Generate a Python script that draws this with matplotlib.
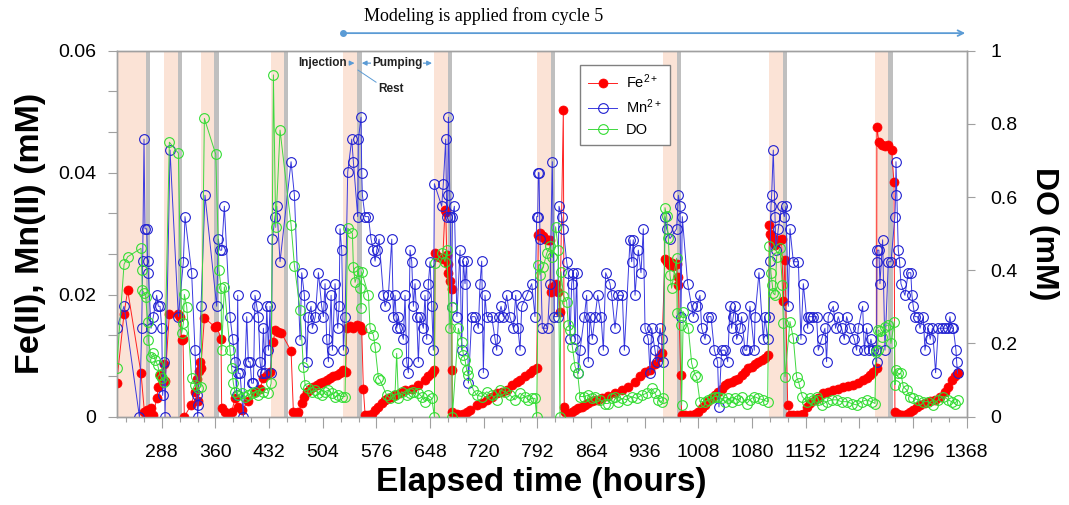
import numpy as np
import matplotlib
matplotlib.use("Agg")
import matplotlib.pyplot as plt

plt.rcParams["font.family"] = ["Liberation Sans", "DejaVu Sans"]
plt.rcParams["mathtext.fontset"] = "custom"
plt.rcParams["mathtext.rm"] = "Liberation Sans"
plt.rcParams["mathtext.default"] = "regular"

# =========================
# DATA
# =========================
# injection start, injection end, rest end (hours)
inj_start = [227.6, 291.1, 340.3, 434.2, 531.6, 653.7, 791.9, 960.9, 1103.1, 1245.0]
inj_end = [266.5, 309.8, 358.5, 452.0, 550.4, 671.7, 810.3, 979.7, 1121.1, 1262.8]
rest_end = [272.3, 315.2, 364.4, 457.8, 556.3, 677.4, 815.6, 984.3, 1127.3, 1269.5]

fe_t = [227.5, 237.4, 242.3, 260.2, 264.7, 267.8, 270.0, 273.6, 276.7, 281.2, 283.4, 285.7,
        288.0, 290.5, 292.4, 298.2, 310.3, 312.0, 314.7, 316.5, 318.3, 327.3, 332.6, 335.0,
        336.5, 338.0, 339.3, 340.5, 345.2, 359.5, 361.5, 367.5, 368.4, 373.0, 377.3, 381.8,
        386.3, 390.8, 395.2, 404.2, 413.1, 419.9,
        424.4, 428.9, 433.3, 437.8, 440.0, 444.5, 448.0, 461.5, 464.6, 469.1, 471.3, 475.8,
        479.4, 482.5, 487.0, 491.5, 495.9, 500.4, 504.9, 509.3, 513.8, 518.3, 522.8, 527.2,
        531.7, 534.8, 536.2, 540.7, 545.1, 549.6, 554.1, 556.3, 558.5, 560.8, 565.3, 569.7,
        574.2, 578.7, 583.1, 587.6, 592.1, 596.5, 601.0, 607.7,
        614.4, 623.4, 632.3, 641.2, 645.7, 650.2, 653.8, 654.7, 660.0, 665.0, 668.0, 669.0,
        670.5, 671.5, 672.6, 675.0, 677.0, 677.5, 678.0, 683.5, 688.2, 692.7, 697.1, 701.6,
        710.6, 717.3, 724.0, 730.7, 737.4, 744.1, 750.8, 757.5, 764.2, 768.7, 775.4, 782.1,
        786.6, 791.0,
        793.3, 795.5, 797.7, 800.0, 802.2, 806.7, 809.0, 810.0, 812.0, 814.7, 817.0, 820.0,
        822.3, 826.8, 828.0, 829.5, 833.5, 838.0, 842.5, 847.0, 851.4, 855.9, 860.4, 864.9,
        869.3, 873.8, 878.2, 887.2, 896.1, 905.1, 914.0, 923.0, 929.7, 936.4, 943.1, 949.8,
        955.2, 958.7,
        963.2, 965.4, 967.7, 969.9, 972.1, 974.4, 978.8, 980.0, 981.1, 984.3, 985.5, 990.0,
        996.7, 1003.4, 1007.9, 1012.4, 1016.9, 1021.3, 1025.8, 1030.3, 1034.7, 1039.2, 1043.7,
        1048.2, 1052.6, 1057.1, 1061.6, 1066.0, 1070.5, 1075.0, 1079.4, 1083.9, 1088.4, 1092.8,
        1097.3, 1101.8,
        1103.2, 1104.1, 1106.3, 1108.5, 1110.8, 1113.0, 1115.2, 1117.5, 1119.7, 1122.0, 1124.2,
        1127.8, 1130.9, 1135.4, 1139.8, 1144.3, 1148.8, 1153.2, 1157.7, 1164.4, 1168.9, 1175.6,
        1182.3, 1189.0, 1195.7, 1202.4, 1209.1, 1215.8, 1222.5, 1229.2, 1233.7, 1238.2, 1242.6,
        1247.1,
        1247.5, 1250.2, 1253.8, 1258.3, 1262.8, 1267.3, 1270.4, 1271.7, 1276.2, 1281.6, 1287.4,
        1291.9, 1296.3, 1300.8, 1305.3, 1312.0, 1318.7, 1325.4, 1332.1, 1338.8, 1343.3, 1347.8,
        1352.2, 1355.8]
fe_val = [0.0055, 0.0169, 0.0207, 0.0071, 0.0008, 0.0011, 0.0005, 0.0014, 0.0003, 0.0030, 0.0049, 0.0068,
          0.0062, 0.0087, 0.0058, 0.0169, 0.0169, 0.0164, 0.0126, 0.0128, 0.0000, 0.0019, 0.0041, 0.0062,
          0.0025, 0.0075, 0.0090, 0.0080, 0.0162, 0.0147, 0.0149, 0.0128, 0.0014, 0.0008, 0.0004, 0.0008,
          0.0030, 0.0016, 0.0011, 0.0025, 0.0041, 0.0046,
          0.0063, 0.0068, 0.0074, 0.0123, 0.0142, 0.0139, 0.0138, 0.0108, 0.0008, 0.0005, 0.0008, 0.0022,
          0.0033, 0.0041, 0.0046, 0.0049, 0.0052, 0.0055, 0.0057, 0.0060, 0.0063, 0.0066, 0.0068, 0.0071,
          0.0076, 0.0074, 0.0146, 0.0148, 0.0145, 0.0150, 0.0148, 0.0142, 0.0046, 0.0003, 0.0003, 0.0005,
          0.0011, 0.0016, 0.0022, 0.0027, 0.0030, 0.0033, 0.0035, 0.0038,
          0.0044, 0.0046, 0.0052, 0.0060, 0.0066, 0.0071, 0.0076, 0.0268, 0.0262, 0.0258, 0.0339, 0.0336,
          0.0265, 0.0250, 0.0235, 0.0222, 0.0210, 0.0076, 0.0008, 0.0005, 0.0003, 0.0004, 0.0008, 0.0011,
          0.0019, 0.0022, 0.0027, 0.0033, 0.0038, 0.0041, 0.0044, 0.0052, 0.0057, 0.0060, 0.0066, 0.0071,
          0.0076, 0.0079,
          0.0298, 0.0301, 0.0295, 0.0296, 0.0292, 0.0290, 0.0289, 0.0205, 0.0213, 0.0207, 0.0218, 0.0205,
          0.0172, 0.0502, 0.0016, 0.0008, 0.0005, 0.0008, 0.0011, 0.0014, 0.0016, 0.0019, 0.0023, 0.0025,
          0.0027, 0.0028, 0.0030, 0.0034, 0.0038, 0.0043, 0.0049, 0.0057, 0.0066, 0.0074, 0.0076, 0.0087,
          0.0098, 0.0104,
          0.0259, 0.0254, 0.0256, 0.0249, 0.0252, 0.0247, 0.0251, 0.0229, 0.0216, 0.0068, 0.0003, 0.0003,
          0.0003, 0.0005, 0.0008, 0.0014, 0.0019, 0.0025, 0.0030, 0.0035, 0.0041, 0.0046, 0.0052,
          0.0055, 0.0057, 0.0060, 0.0061, 0.0068, 0.0074, 0.0079, 0.0082, 0.0087, 0.0090, 0.0093,
          0.0096, 0.0101,
          0.0314, 0.0300, 0.0295, 0.0287, 0.0282, 0.0290, 0.0289, 0.0290, 0.0292, 0.0189, 0.0257,
          0.0019, 0.0003, 0.0003, 0.0003, 0.0003, 0.0005, 0.0016, 0.0022, 0.0027, 0.0030, 0.0038,
          0.0041, 0.0044, 0.0046, 0.0048, 0.0050, 0.0052, 0.0055, 0.0060, 0.0063, 0.0068, 0.0074,
          0.0079,
          0.0475, 0.0450, 0.0445, 0.0443, 0.0445, 0.0437, 0.0384, 0.0008, 0.0005, 0.0003, 0.0005,
          0.0008, 0.0011, 0.0016, 0.0019, 0.0022, 0.0025, 0.0027, 0.0033, 0.0041, 0.0049, 0.0060,
          0.0066, 0.0071]

mn_t = [227.5, 237.4, 258.0, 261.1, 262.4, 264.2, 265.5, 267.8, 269.0, 270.0, 273.6, 276.7,
        281.2, 283.4, 285.7, 288.0, 289.2, 291.5, 292.4, 299.1, 310.3, 317.0, 319.2, 328.1,
        332.6, 334.9, 336.2, 337.1, 340.7, 346.0, 361.7, 363.9, 366.0, 368.4, 372.0, 379.6,
        383.2, 386.3, 388.5, 389.9, 390.8, 393.0, 397.5, 402.0, 404.2, 406.5, 408.7, 411.0,
        413.1, 415.4, 417.7, 419.9, 422.0, 424.4, 426.6, 428.9, 431.1, 433.3, 434.7, 436.5,
        440.0, 442.3, 446.7, 461.5, 466.0, 473.6, 475.8, 479.4, 482.5, 484.8, 488.3, 490.1,
        494.0, 498.2, 502.6, 504.9, 507.1, 509.3, 511.6, 515.2, 517.0, 520.5, 524.1, 525.9,
        527.2, 529.5, 531.7, 534.0, 537.5, 542.9, 545.1, 550.9, 551.8, 555.4, 556.3, 557.2,
        560.8, 565.3, 568.8, 571.9, 574.2, 576.4, 579.6, 585.4, 587.6, 592.1, 596.6, 598.8,
        601.0, 603.3, 605.5, 607.7, 612.2, 614.4, 616.7, 618.9, 621.1, 623.4, 625.6, 627.8,
        630.1, 632.3, 634.5, 639.0, 641.2, 643.5, 645.7, 648.0, 650.2, 652.4, 653.8, 663.6,
        665.8, 669.0, 670.3, 671.7, 672.6, 675.0, 677.0, 678.0, 680.6, 684.0, 688.2, 690.4,
        692.7, 694.9, 697.1, 699.4, 704.0, 708.3, 712.8, 715.0, 717.3, 719.5, 721.7, 724.0,
        730.7, 735.2, 737.4, 740.0, 743.2, 746.3, 750.8, 755.0, 759.8, 762.9, 766.0, 768.7,
        771.0, 777.6, 784.4, 788.8, 791.0, 792.4, 793.3, 794.2, 795.5, 798.6, 805.8, 808.9,
        812.0, 814.7, 819.0, 821.0, 824.6, 826.8, 831.3, 833.5, 835.8, 838.0, 840.2, 842.5,
        844.7, 846.9, 849.2, 855.0, 858.1, 860.3, 862.5, 865.7, 869.3, 872.9, 877.4, 880.5,
        883.6, 889.4, 891.7, 896.1, 900.6, 906.0, 908.7, 916.3, 918.5, 920.7, 923.0, 927.4,
        931.0, 934.1, 936.4, 940.8, 943.1, 945.3, 949.8, 952.0, 956.5, 958.7, 961.0, 963.2,
        965.4, 969.9, 978.8, 981.1, 983.3, 984.6, 986.4, 993.6, 999.0, 1001.2, 1005.7, 1010.1,
        1012.4, 1016.9, 1021.3, 1024.9, 1029.4, 1033.8, 1035.6, 1039.2, 1043.7, 1047.3, 1050.4,
        1052.6, 1054.8, 1057.1, 1059.3, 1063.8, 1066.0, 1070.5, 1072.8, 1077.2, 1083.0, 1084.0,
        1089.3, 1095.1, 1097.3, 1100.9, 1103.0, 1104.1, 1105.4, 1106.3, 1108.5, 1110.8, 1112.0,
        1115.2, 1119.7, 1123.3, 1125.5, 1128.7, 1130.9, 1135.4, 1142.1, 1145.6, 1148.8, 1154.6,
        1155.5, 1157.7, 1162.2, 1166.6, 1168.9, 1173.3, 1177.8, 1180.0, 1182.3, 1189.0, 1192.1,
        1195.7, 1200.2, 1203.8, 1206.9, 1211.3, 1217.2, 1220.3, 1222.5, 1228.4, 1230.6, 1233.7,
        1236.8, 1239.5, 1242.6, 1246.2, 1247.1, 1247.5, 1248.0, 1250.2, 1251.6, 1255.2, 1258.3,
        1262.8, 1266.4, 1271.7, 1272.6, 1273.1, 1276.2, 1278.0, 1279.8, 1285.1, 1289.6, 1293.0,
        1294.5, 1296.3, 1298.5, 1302.0, 1305.3, 1309.8, 1312.0, 1316.5, 1319.0, 1322.0, 1326.3,
        1329.9, 1334.4, 1338.8, 1343.3, 1345.5, 1347.8, 1350.0, 1353.6, 1354.5, 1355.8]
mn_val = [0.0145, 0.0181, 0.0000, 0.0145, 0.0255, 0.0455, 0.0308, 0.0308, 0.0255, 0.0236, 0.0145, 0.0164,
          0.0199, 0.0181, 0.0181, 0.0145, 0.0035, 0.0090, 0.0000, 0.0437, 0.0164, 0.0254, 0.0328, 0.0236,
          0.0109, 0.0035, 0.0000, 0.0019, 0.0181, 0.0363, 0.0181, 0.0291, 0.0273, 0.0273, 0.0345, 0.0164,
          0.0127, 0.0090, 0.0035, 0.0199, 0.0071, 0.0071, 0.0000, 0.0164, 0.0090, 0.0090, 0.0055, 0.0055,
          0.0199, 0.0181, 0.0164, 0.0090, 0.0071, 0.0145, 0.0071, 0.0181, 0.0109, 0.0181, 0.0071, 0.0291,
          0.0328, 0.0345, 0.0254, 0.0418, 0.0363, 0.0126, 0.0236, 0.0199, 0.0090, 0.0164, 0.0181, 0.0145,
          0.0164, 0.0236, 0.0181, 0.0164, 0.0218, 0.0127, 0.0090, 0.0199, 0.0109, 0.0218, 0.0145, 0.0181,
          0.0308, 0.0273, 0.0109, 0.0164, 0.0401, 0.0455, 0.0418, 0.0328, 0.0455, 0.0491, 0.0400, 0.0363,
          0.0328, 0.0328, 0.0291, 0.0273, 0.0255, 0.0273, 0.0291, 0.0199, 0.0181, 0.0199, 0.0291, 0.0164,
          0.0199, 0.0145, 0.0164, 0.0145, 0.0127, 0.0199, 0.0090, 0.0072, 0.0273, 0.0254, 0.0181, 0.0218,
          0.0164, 0.0090, 0.0164, 0.0145, 0.0199, 0.0127, 0.0218, 0.0254, 0.0181, 0.0109, 0.0382, 0.0345,
          0.0382, 0.0455, 0.0328, 0.0363, 0.0491, 0.0328, 0.0180, 0.0328, 0.0345, 0.0164, 0.0273, 0.0109,
          0.0255, 0.0218, 0.0255, 0.0055, 0.0164, 0.0164, 0.0145, 0.0218, 0.0255, 0.0072, 0.0199, 0.0164,
          0.0164, 0.0127, 0.0109, 0.0164, 0.0181, 0.0164, 0.0199, 0.0164, 0.0145, 0.0199, 0.0145, 0.0109,
          0.0181, 0.0199, 0.0218, 0.0164, 0.0328, 0.0328, 0.0400, 0.0400, 0.0292, 0.0145, 0.0145, 0.0218,
          0.0418, 0.0164, 0.0164, 0.0345, 0.0328, 0.0308, 0.0254, 0.0236, 0.0127, 0.0218, 0.0236, 0.0127,
          0.0236, 0.0071, 0.0109, 0.0164, 0.0199, 0.0090, 0.0164, 0.0127, 0.0164, 0.0199, 0.0164, 0.0109,
          0.0236, 0.0218, 0.0199, 0.0145, 0.0199, 0.0199, 0.0109, 0.0290, 0.0254, 0.0290, 0.0199, 0.0273,
          0.0236, 0.0308, 0.0145, 0.0127, 0.0071, 0.0145, 0.0109, 0.0090, 0.0145, 0.0127, 0.0090, 0.0328,
          0.0308, 0.0292, 0.0308, 0.0363, 0.0345, 0.0164, 0.0328, 0.0218, 0.0181, 0.0164, 0.0181, 0.0199,
          0.0145, 0.0127, 0.0164, 0.0164, 0.0109, 0.0090, 0.0016, 0.0109, 0.0109, 0.0090, 0.0181,
          0.0145, 0.0164, 0.0181, 0.0127, 0.0145, 0.0164, 0.0109, 0.0109, 0.0181, 0.0109, 0.0164,
          0.0236, 0.0127, 0.0164, 0.0127, 0.0164, 0.0255, 0.0345, 0.0363, 0.0437, 0.0328, 0.0273,
          0.0308, 0.0345, 0.0328, 0.0345, 0.0181, 0.0308, 0.0254, 0.0254, 0.0127, 0.0218, 0.0145,
          0.0164, 0.0164, 0.0164, 0.0164, 0.0109, 0.0127, 0.0145, 0.0090, 0.0164, 0.0181, 0.0145,
          0.0164, 0.0145, 0.0127, 0.0164, 0.0145, 0.0127, 0.0109, 0.0145, 0.0181, 0.0109, 0.0145,
          0.0109, 0.0127, 0.0109, 0.0109, 0.0090, 0.0254, 0.0273, 0.0273, 0.0218, 0.0290, 0.0109,
          0.0254, 0.0254, 0.0328, 0.0363, 0.0418, 0.0273, 0.0254, 0.0218, 0.0199, 0.0236, 0.0236,
          0.0199, 0.0181, 0.0164, 0.0164, 0.0145, 0.0164, 0.0109, 0.0145, 0.0127, 0.0145, 0.0072,
          0.0145, 0.0145, 0.0145, 0.0145, 0.0164, 0.0145, 0.0145, 0.0109, 0.0090, 0.0071]

do_t = [227.5, 237.4, 242.3, 260.2, 261.1, 262.0, 264.7, 266.4, 269.1, 270.0, 273.6, 276.7,
        279.0, 282.5, 285.7, 287.9, 291.5, 298.2, 310.3, 314.7, 317.0, 318.3, 321.5, 328.1,
        332.6, 336.5, 340.7, 345.2, 360.4, 364.8, 367.5, 368.4, 372.0, 379.6, 381.8, 384.1,
        386.3, 390.8, 395.2, 399.7, 404.2, 408.7, 413.1, 417.7, 424.4, 431.1, 434.7, 437.8,
        440.9, 446.7, 461.5, 466.0, 473.6, 478.0, 480.3, 484.8, 489.2, 493.7, 498.2, 502.6,
        507.1, 511.6, 516.0, 520.5, 525.0, 529.5, 533.9, 537.5, 543.8, 545.1, 547.4, 551.8,
        554.1, 555.4, 556.3, 565.3, 567.5, 572.0, 574.2, 578.7, 580.9, 589.8, 594.3, 600.9,
        603.2, 605.5, 610.0, 616.7, 621.1, 625.6, 632.3, 636.8, 641.2, 645.7, 650.2, 653.8,
        654.7, 663.6, 668.0, 670.3, 674.8, 677.0, 677.9, 686.0, 690.4, 692.7, 694.9, 697.1,
        699.4, 706.1, 710.6, 717.3, 724.0, 730.7, 737.4, 741.9, 748.6, 755.3, 762.0, 768.7,
        775.4, 779.8, 784.3, 788.8, 791.0, 793.3, 795.5, 800.0, 804.5, 809.0, 812.0, 816.5,
        820.1, 822.3, 823.7, 827.0, 831.3, 833.5, 836.0, 838.9, 842.5, 846.0, 849.2, 855.0,
        860.4, 864.9, 869.3, 876.0, 882.7, 887.2, 891.7, 896.1, 900.6, 906.0, 911.8, 918.5,
        925.2, 931.9, 938.6, 945.3, 949.8, 954.3, 958.7, 961.0, 963.2, 965.4, 967.7, 969.9,
        972.1, 978.8, 979.5, 984.6, 985.5, 987.8, 994.5, 999.0, 1003.4, 1005.7, 1010.1, 1016.9,
        1021.3, 1025.8, 1030.3, 1034.7, 1039.2, 1043.7, 1048.2, 1052.6, 1057.1, 1061.6, 1066.0,
        1072.8, 1077.2, 1083.0, 1088.4, 1095.1, 1100.9, 1103.2, 1105.4, 1107.2, 1108.5, 1110.8,
        1113.0, 1117.5, 1120.6, 1122.0, 1124.2, 1130.9, 1135.4, 1139.8, 1143.0, 1147.4, 1153.2,
        1157.7, 1162.2, 1166.6, 1168.9, 1173.3, 1180.0, 1186.7, 1193.5, 1200.2, 1206.9, 1213.6,
        1220.3, 1227.0, 1233.7, 1240.4, 1244.9, 1246.2, 1248.5, 1249.4, 1251.6, 1253.8, 1258.3,
        1262.8, 1266.4, 1270.8, 1271.7, 1272.6, 1276.2, 1279.8, 1282.9, 1287.4, 1291.9, 1296.3,
        1303.0, 1309.8, 1316.5, 1323.2, 1329.9, 1336.6, 1343.3, 1347.8, 1352.2, 1355.8]
do_val = [0.134, 0.416, 0.437, 0.460, 0.401, 0.346, 0.337, 0.328, 0.260, 0.210, 0.164, 0.173,
          0.155, 0.141, 0.114, 0.105, 0.096, 0.750, 0.720, 0.228, 0.255, 0.334, 0.300, 0.105,
          0.087, 0.078, 0.082, 0.815, 0.717, 0.401, 0.351, 0.182, 0.355, 0.182, 0.132, 0.091,
          0.068, 0.059, 0.064, 0.055, 0.059, 0.064, 0.068, 0.059, 0.068, 0.064, 0.091, 0.934,
          0.517, 0.783, 0.524, 0.413, 0.292, 0.137, 0.087, 0.078, 0.068, 0.073, 0.064, 0.059,
          0.068, 0.073, 0.064, 0.055, 0.059, 0.055, 0.055, 0.515, 0.501, 0.410, 0.367, 0.398,
          0.351, 0.296, 0.396, 0.333, 0.241, 0.223, 0.191, 0.105, 0.100, 0.059, 0.050, 0.059,
          0.173, 0.050, 0.068, 0.059, 0.064, 0.068, 0.064, 0.055, 0.041, 0.059, 0.050, 0.000,
          0.419, 0.446, 0.424, 0.456, 0.241, 0.300, 0.000, 0.241, 0.205, 0.169, 0.155, 0.128,
          0.114, 0.073, 0.059, 0.055, 0.068, 0.059, 0.046, 0.073, 0.068, 0.059, 0.046, 0.064,
          0.055, 0.046, 0.050, 0.050, 0.000, 0.415, 0.387, 0.410, 0.446, 0.465, 0.435, 0.519,
          0.456, 0.000, 0.396, 0.330, 0.314, 0.251, 0.237, 0.191, 0.137, 0.118, 0.055, 0.055,
          0.059, 0.050, 0.055, 0.046, 0.036, 0.036, 0.050, 0.055, 0.041, 0.050, 0.046, 0.055,
          0.050, 0.059, 0.064, 0.077, 0.064, 0.046, 0.041, 0.050, 0.571, 0.549, 0.487, 0.387,
          0.351, 0.433, 0.282, 0.251, 0.032, 0.287, 0.241, 0.146, 0.114, 0.109, 0.041, 0.041,
          0.046, 0.050, 0.055, 0.055, 0.050, 0.041, 0.050, 0.041, 0.050, 0.046, 0.055,
          0.036, 0.046, 0.055, 0.050, 0.046, 0.041, 0.465, 0.392, 0.360, 0.337, 0.333,
          0.437, 0.460, 0.360, 0.255, 0.109, 0.260, 0.214, 0.109, 0.091, 0.055, 0.041,
          0.050, 0.046, 0.055, 0.046, 0.032, 0.041, 0.046, 0.046, 0.041, 0.041, 0.036,
          0.032, 0.041, 0.046, 0.041, 0.036, 0.178, 0.182, 0.237, 0.233, 0.219, 0.246,
          0.251, 0.200, 0.260, 0.087, 0.128, 0.118, 0.118, 0.082, 0.073, 0.055, 0.050,
          0.046, 0.041, 0.041, 0.032, 0.046, 0.055, 0.046, 0.041, 0.036, 0.046]

x_ticks = list(range(288, 1369, 72))


# =========================
# FIGURE
# =========================
fig = plt.figure(figsize=(10.69, 5.05), dpi=100)
ax1 = fig.add_axes([0.1092, 0.1749, 0.7951, 0.7247])
ax2 = ax1.twinx()

for s, e, r in zip(inj_start, inj_end, rest_end):
    ax1.axvspan(s, e, color="#FBE3D6", lw=0, zorder=0)
    ax1.axvspan(e, r, color="#BFBFBF", lw=0, zorder=0)

ax1.plot(fe_t, fe_val, "-", color="#FF2020", lw=0.7, marker="o", ms=6.5,
         mfc="#FF0000", mec="#FF0000", mew=0.5, label="Fe$^{2+}$", zorder=3)
ax1.plot(mn_t, mn_val, "-", color="#3A3AE0", lw=0.7, marker="o", ms=7,
         mfc="none", mec="#1F1FD0", mew=0.8, label="Mn$^{2+}$", zorder=4)
ax2.plot(do_t, do_val, "-", color="#40D840", lw=0.7, marker="o", ms=7,
         mfc="none", mec="#33DD33", mew=0.8, label="DO", zorder=3)

ax1.set_xlim(227.6, 1368)
ax1.set_ylim(0, 0.06)
ax2.set_ylim(0, 1)

ax1.set_xticks(x_ticks)
ax1.set_xticklabels([str(t) for t in x_ticks])
ax1.set_xticks(range(240, 1369, 24), minor=True)
ax1.set_yticks([0, 0.02, 0.04, 0.06])
ax1.set_yticklabels(["0", "0.02", "0.04", "0.06"])
ax1.set_yticks(np.arange(0, 0.0601, 0.02 / 3), minor=True)
ax2.set_yticks([0, 0.2, 0.4, 0.6, 0.8, 1.0])
ax2.set_yticklabels(["0", "0.2", "0.4", "0.6", "0.8", "1"])

spine_c = "#A0A0A0"
for ax in (ax1, ax2):
    for sp in ax.spines.values():
        sp.set_color(spine_c)
        sp.set_linewidth(1.0)

ax1.tick_params(axis="x", which="major", length=7.7, width=0.8, color=spine_c,
                labelsize=14, pad=12, direction="out")
ax1.tick_params(axis="x", which="minor", length=3.6, width=0.8, color=spine_c, direction="out")
ax1.tick_params(axis="y", which="both", length=6.7, width=0.8, color=spine_c,
                labelsize=14, pad=8, direction="out")
ax2.tick_params(axis="y", which="major", length=6, width=0.8, color=spine_c,
                labelsize=14, pad=11, direction="out")

ax1.set_xlabel("Elapsed time (hours)", fontsize=24, fontweight="bold", labelpad=4)
ax1.set_ylabel("Fe(II), Mn(II) (mM)", fontsize=24.5, fontweight="bold", labelpad=9)
ax2.set_ylabel("DO (mM)", fontsize=23, fontweight="bold", rotation=270, labelpad=30)

# legend
h1, l1 = ax1.get_legend_handles_labels()
h2, l2 = ax2.get_legend_handles_labels()
leg = ax2.legend(h1 + h2, l1 + l2, loc="upper left", bbox_to_anchor=(0.545, 0.962),
                 borderaxespad=0, fontsize=10.5, handlelength=2.0, labelspacing=0.45,
                 handletextpad=0.6, fancybox=False, framealpha=1, edgecolor="#808080",
                 borderpad=0.55)
leg.get_frame().set_linewidth(1.0)

# =========================
# ANNOTATIONS
# =========================
trans = ax1.get_xaxis_transform()
arrow_c = "#5B9BD5"

ax1.text(720.4, 1.095, "Modeling is applied from cycle 5", transform=trans,
         ha="center", va="center", fontsize=13, family="Liberation Serif")
ax1.annotate("", xy=(1369.7, 1.048), xytext=(531.2, 1.048), xycoords=trans, textcoords=trans,
             arrowprops=dict(arrowstyle="->", color=arrow_c, lw=1.3), annotation_clip=False)
ax1.plot([531.2], [1.048], "o", color=arrow_c, ms=4, transform=trans, clip_on=False)

ax1.text(536.6, 0.966, "Injection", transform=trans, ha="right", va="center",
         fontsize=8.5, fontweight="bold", color="#222222", zorder=6)
ax1.annotate("", xy=(550.4, 0.966), xytext=(536.6, 0.966), xycoords=trans, textcoords=trans,
             arrowprops=dict(arrowstyle="-|>", color=arrow_c, lw=0.9, mutation_scale=7),
             annotation_clip=False, zorder=6)
ax1.annotate("", xy=(650.6, 0.966), xytext=(556.3, 0.966), xycoords=trans, textcoords=trans,
             arrowprops=dict(arrowstyle="<|-|>", color=arrow_c, lw=0.9, mutation_scale=7,
                             shrinkA=0, shrinkB=0),
             annotation_clip=False, zorder=6)
ax1.text(603.6, 0.966, "Pumping", transform=trans, ha="center", va="center",
         fontsize=8.5, fontweight="bold", color="#222222", zorder=7,
         bbox=dict(facecolor="white", edgecolor="none", pad=0.5))
ax1.plot([551.3, 575.5], [0.947, 0.914], color=arrow_c, lw=0.7, transform=trans, zorder=6)
ax1.text(578.2, 0.895, "Rest", transform=trans, ha="left", va="center",
         fontsize=8.5, fontweight="bold", color="#222222", zorder=6)

plt.savefig("out.png", dpi=100)
plt.close()
